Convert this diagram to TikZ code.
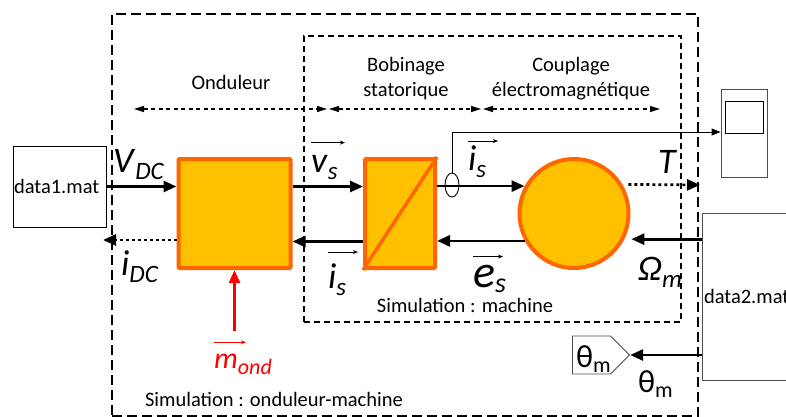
\documentclass[tikz,border=0pt]{standalone}
\usepackage{fontspec}
\setmainfont{Carlito}
\usetikzlibrary{arrows.meta,shapes.symbols,shapes.geometric}
\newcommand{\bigsym}[2]{\fontsize{36}{36}\selectfont\textit{#1}\raisebox{-7pt}{\fontsize{25}{25}\selectfont\textit{#2}}}
\newcommand{\thetasym}{\fontsize{32}{32}\selectfont θ\raisebox{-5pt}{\fontsize{22}{22}\selectfont m}}

\begin{document}
\begin{tikzpicture}[x=1pt, y=-1pt, font=\fontsize{20.5}{25}\selectfont,
   block/.style={draw=orange6, fill=gold0, line width=4pt, rectangle, rounded corners=1pt, minimum height=109pt, inner sep=0pt},
   filebox/.style={draw, rectangle, line width=0.9pt, inner sep=0pt},
   bigarrow/.style={line width=2.7pt, -{Stealth[length=13pt,width=11pt,inset=0pt]}},
   dotarrow/.style={line width=2.7pt, dash pattern=on 3pt off 3pt, -{Stealth[length=13pt,width=11pt,inset=0pt]}},
   spanarrow/.style={line width=1.2pt, dash pattern=on 4pt off 3.5pt, {Stealth[length=10pt,width=6pt,inset=0pt]}-{Stealth[length=10pt,width=6pt,inset=0pt]}},
   overarrow/.style={line width=0.9pt, -{Stealth[length=5pt,width=4pt]}},
   symbol/.style={anchor=base west, inner sep=0pt},
]
\definecolor{orange6}{HTML}{FF6600}
\definecolor{gold0}{HTML}{FFC000}
\clip (0,0) rectangle (786,417);

% Frames
\node [draw, line width=1.7pt, dash pattern=on 10pt off 5pt, minimum width=586pt, minimum height=402pt, inner sep=0pt] (simfull) at (405,215) {};
\node [draw, line width=1.4pt, dash pattern=on 6pt off 4pt, minimum width=377pt, minimum height=286pt, inner sep=0pt] (simmach) at (492.5,179) {};

% Blocks
\node [block, minimum width=112pt] (ond) at (234.5,213.5) {};
\node [block, minimum width=70pt] (conv) at (400,213.5) {};
\draw [draw=orange6, line width=3.5pt] (conv.south west) -- (conv.north east);
\node [block, circle, minimum size=109pt] (mach) at (574,213.5) {};

% Files and scope
\node [filebox, minimum width=93pt, minimum height=81pt, text width=91pt, align=left] (data1) at (59.5,186.5) {data1.mat};
\node [filebox, draw=black!70, minimum width=120pt, minimum height=167pt, text width=116pt, align=left] (data2) at (762,296.5) {data2.mat};
\node [filebox, draw=black!70, minimum width=46pt, minimum height=88pt] (scope) at (744,133) {};
\node [filebox, minimum width=38pt, minimum height=32pt] (screen) at (744,117) {};
\node [signal, signal to=east, draw=black!70, line width=0.9pt, minimum width=57pt, minimum height=38pt, inner sep=0pt] (tag) at (591.5,355) {};
\node [draw, ellipse, line width=0.9pt, fill=none, minimum width=14pt, minimum height=24pt, inner sep=0pt] (probe) at (452,185) {};

% Titles
\node (tond) at (231,82) {Onduleur};
\node [align=center] (tbob) at (406,79) {Bobinage\\statorique};
\node [align=center] (tcoup) at (571,79) {Couplage\\électromagnétique};
\node (tsimm) at (465,305) {Simulation : machine};
\node (tsimo) at (274,399) {Simulation : onduleur-machine};

% Span arrows
\coordinate (s0) at (134,109);
\coordinate (s1) at (327,109);
\coordinate (s2) at (329,109);
\coordinate (s3) at (481,109);
\coordinate (s4) at (483,109);
\coordinate (s5) at (660,109);
\draw [spanarrow] (s0) -- (s1);
\draw [spanarrow] (s2) -- (s3);
\draw [spanarrow] (s4) -- (s5);

% Symbols
\node [symbol] (vdc) at (113,172) {\bigsym{V}{DC}};
\node [symbol] (idc) at (121,275) {\bigsym{i}{DC}};
\node [symbol] (vs) at (311,172) {\bigsym{v}{s}};
\node [symbol] (isl) at (328,288) {\bigsym{i}{s}};
\node [symbol] (isr) at (468,170) {\bigsym{i}{s}};
\node [symbol] (es) at (473,287) {\fontsize{46}{46}\selectfont\textit{e}\raisebox{-5pt}{\fontsize{28}{28}\selectfont\textit{s}}};
\node [symbol] (tq) at (658,173) {\bigsym{T}{}};
\node [symbol] (om) at (638,280) {\bigsym{Ω}{m}};
\node [symbol, red] (mo) at (214,368) {\fontsize{30}{30}\selectfont\textit{m}\raisebox{-6pt}{\fontsize{22}{22}\selectfont\textit{ond}}};
\node [symbol] (thm) at (638,392) {\thetasym};
\node [symbol] (thtag) at (576,367) {\thetasym};

% Small arrows over symbols
\draw [overarrow] ([yshift=12pt]vs.north west) -- ([xshift=34pt,yshift=12pt]vs.north west);
\draw [overarrow] ([yshift=4pt]isr.north west) -- ([xshift=30pt,yshift=4pt]isr.north west);
\draw [overarrow] ([yshift=11pt]isl.north west) -- ([xshift=30pt,yshift=11pt]isl.north west);
\draw [overarrow] ([yshift=8pt]es.north west) -- ([xshift=30pt,yshift=8pt]es.north west);
\draw [overarrow, red] ([yshift=11pt]mo.north west) -- ([xshift=32pt,yshift=11pt]mo.north west);

% Arrows
\coordinate (idcend) at (103,240);
\coordinate (tqend) at (700,185);
\draw [bigarrow] (data1.east) -- (data1.east -| ond.west);
\draw [dotarrow] ([yshift=-26.5pt]ond.west) -- (idcend);
\draw [bigarrow] ([yshift=27pt]ond.east) -- ([yshift=27pt]conv.west);
\draw [bigarrow] ([yshift=-28pt]conv.west) -- ([yshift=-28pt]ond.east);
\draw [bigarrow] (conv.east |- mach.151) -- (mach.151);
\draw [bigarrow] (mach.209) -- (conv.east |- mach.209);
\draw [dotarrow] ([xshift=6pt]mach.31) -- (tqend);
\draw [bigarrow] (data2.west |- mach.333) -- ([xshift=7pt]mach.333);
\draw [bigarrow] (data2.west |- tag.east) -- (tag.east);
\draw [bigarrow, red] ([yshift=22pt]mo.north -| ond.south) -- (ond.south);
\draw [line width=0.9pt, -{Stealth[length=9pt,width=7pt,inset=0pt]}] (probe.north) |- (scope.west |- 452,132);
\end{tikzpicture}
\end{document}
